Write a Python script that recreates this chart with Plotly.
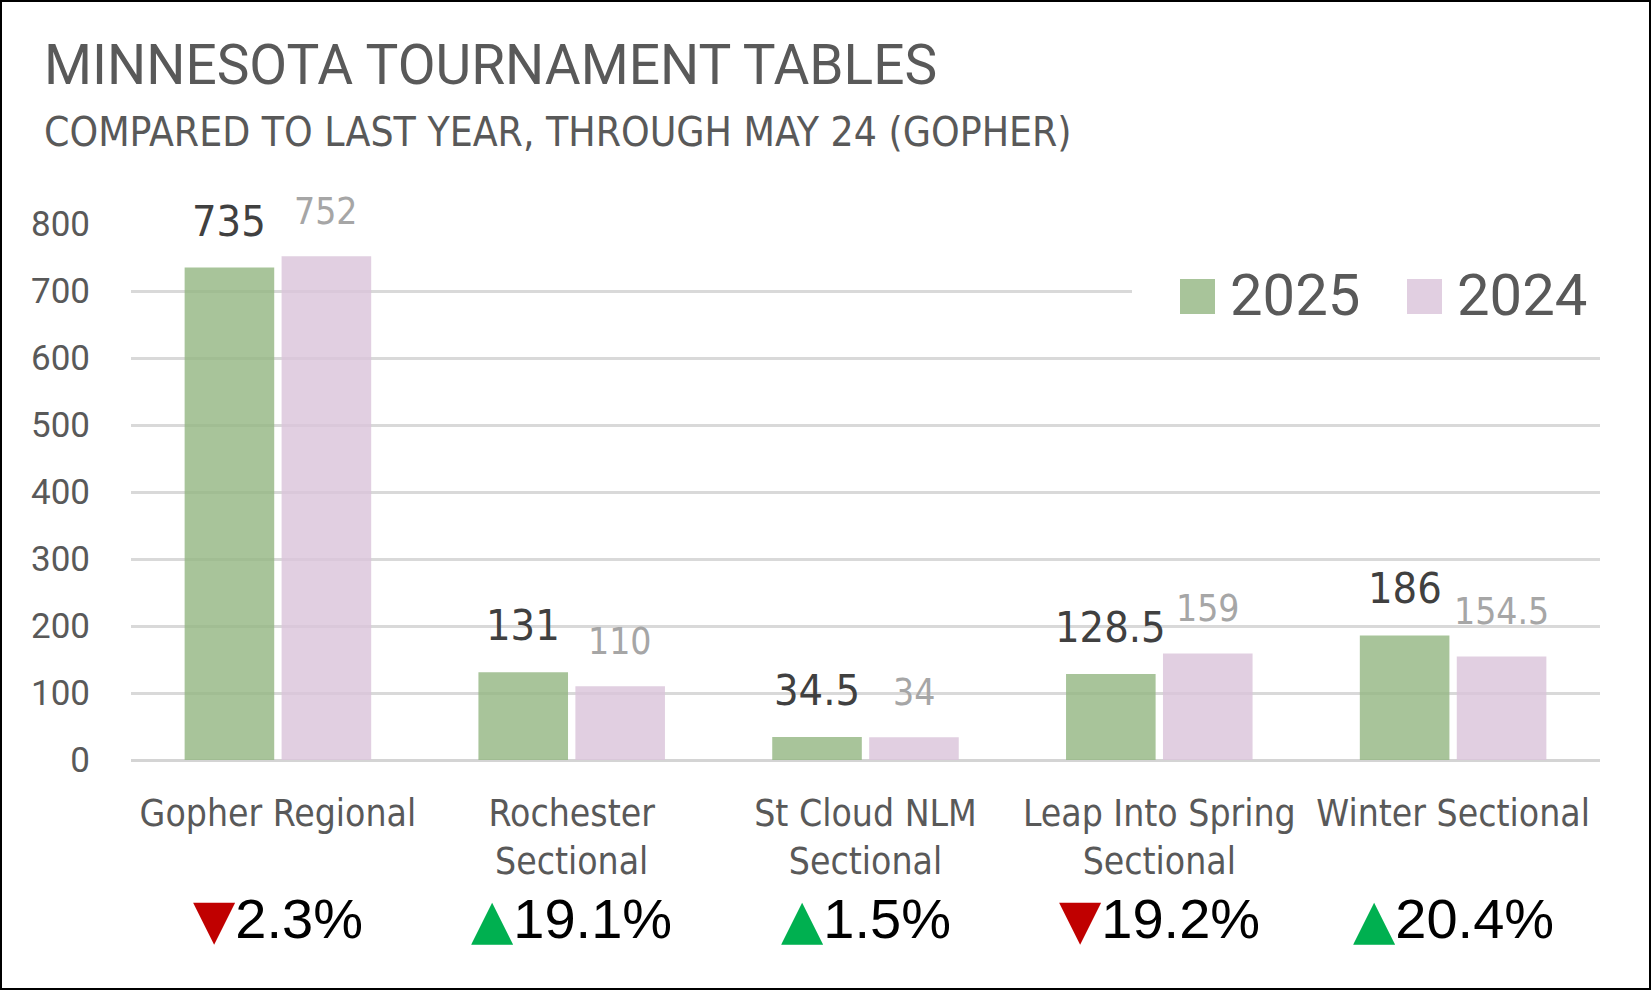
import plotly.graph_objects as go

categories = ["Gopher Regional", "Rochester<br>Sectional", "St Cloud NLM<br>Sectional",
              "Leap Into Spring<br>Sectional", "Winter Sectional"]
values_2025 = [735, 131, 34.5, 128.5, 186]
values_2024 = [752, 110, 34, 159, 154.5]
y_ticks = [0, 100, 200, 300, 400, 500, 600, 700, 800]

W, H = 1651, 990
L, R, T, B = 131, 51, 224, 230
PW, PH = W - L - R, H - T - B
BARGAP = 0.34

NARROW = "Liberation Sans Narrow, DejaVu Sans Condensed, Arial Narrow, sans-serif"
SANS = "Roboto, Liberation Sans, Arial, sans-serif"
GREEN = "rgba(146,181,129,0.8)"
PINK = "rgba(218,195,218,0.8)"


def px_x(x):
    return (x - L) / PW


def px_y(y):
    return (H - B - y) / PH


fig = go.Figure()
fig.add_trace(go.Bar(x=categories, y=values_2025, name="2025", marker_color=GREEN,
                     marker_line_width=0, showlegend=False))
fig.add_trace(go.Bar(x=categories, y=values_2024, name="2024", marker_color=PINK,
                     marker_line_width=0, showlegend=False))

# offset of each bar centre from its category centre, in pixels
slot = PW / len(categories) * (1 - BARGAP) / 2
annotations = []
for cat, v25, v24 in zip(categories, values_2025, values_2024):
    annotations.append(dict(x=cat, y=v25, xref="x", yref="y", text=f"{v25:g}",
                            xshift=-slot / 2, yshift=20, yanchor="bottom", showarrow=False,
                            font=dict(family=NARROW, size=43, color="#404040")))
    annotations.append(dict(x=cat, y=v24, xref="x", yref="y", text=f"{v24:g}",
                            xshift=slot / 2, yshift=21, yanchor="bottom", showarrow=False,
                            font=dict(family=NARROW, size=37, color="#a6a6a6")))
    change = (v25 - v24) / v24 * 100
    tri = "▲" if change >= 0 else "▼"
    col = "#00B050" if change >= 0 else "#C00000"
    arrow = f'<span style="color:{col};font-family:DejaVu Sans;font-size:55px">{tri}</span>'
    annotations.append(dict(x=cat, y=0, xref="x", yref="paper", text=f"{arrow}{abs(change):.1f}%",
                            yshift=-159, yanchor="middle", showarrow=False,
                            font=dict(family="Liberation Sans, Arial, sans-serif", size=56, color="black")))

# titles
annotations.append(dict(x=px_x(42), y=px_y(84), xref="paper", yref="paper", text="MINNESOTA TOURNAMENT TABLES",
                        xanchor="left", yanchor="bottom", showarrow=False, yshift=-15,
                        font=dict(family=SANS, size=55, color="#595959")))
annotations.append(dict(x=px_x(42), y=px_y(147), xref="paper", yref="paper",
                        text="COMPARED TO LAST YEAR, THROUGH MAY 24 (GOPHER)",
                        xanchor="left", yanchor="bottom", showarrow=False, yshift=-11,
                        font=dict(family=NARROW, size=40.5, color="#595959")))

# legend
annotations.append(dict(x=px_x(1228), y=px_y(295), xref="paper", yref="paper", text="2025",
                        xanchor="left", yanchor="middle", showarrow=False,
                        font=dict(family=SANS, size=58, color="#595959")))
annotations.append(dict(x=px_x(1455), y=px_y(295), xref="paper", yref="paper", text="2024",
                        xanchor="left", yanchor="middle", showarrow=False,
                        font=dict(family=SANS, size=58, color="#595959")))

shapes = [
    dict(type="rect", xref="paper", yref="paper", x0=px_x(1132), x1=1, y0=px_y(270), y1=px_y(320),
         fillcolor="white", line_width=0, layer="above"),
    dict(type="rect", xref="paper", yref="paper", x0=px_x(1180), x1=px_x(1215), y0=px_y(314), y1=px_y(279),
         fillcolor="#a8c49a", line_width=0, layer="above"),
    dict(type="rect", xref="paper", yref="paper", x0=px_x(1407), x1=px_x(1442), y0=px_y(314), y1=px_y(279),
         fillcolor="#e1cfe1", line_width=0, layer="above"),
    dict(type="rect", xref="paper", yref="paper", x0=px_x(1), x1=px_x(W - 1), y0=px_y(H - 1), y1=px_y(1),
         line=dict(color="black", width=2), layer="above"),
]

fig.update_layout(
    width=W, height=H,
    margin=dict(l=L, r=R, t=T, b=B, pad=0),
    paper_bgcolor="white", plot_bgcolor="white",
    barmode="group", bargap=BARGAP, bargroupgap=0.076,
    annotations=annotations, shapes=shapes,
    showlegend=False,
)
fig.update_xaxes(tickfont=dict(family=NARROW, size=37, color="#595959"), ticks="",
                 ticklabelstandoff=28, showline=False, showgrid=False)
fig.update_yaxes(range=[0, 800], tickvals=y_ticks, tickfont=dict(family=SANS, size=35, color="#595959"),
                 ticks="", ticklabelstandoff=40, showgrid=True, gridcolor="#d9d9d9", gridwidth=2.5,
                 zeroline=True, zerolinecolor="#d4d4d4", zerolinewidth=3)

# the page's default body margin would shift the figure by 8px
fig.write_html("out.html", config={"displayModeBar": False},
               post_script="document.body.style.margin = '0';")
